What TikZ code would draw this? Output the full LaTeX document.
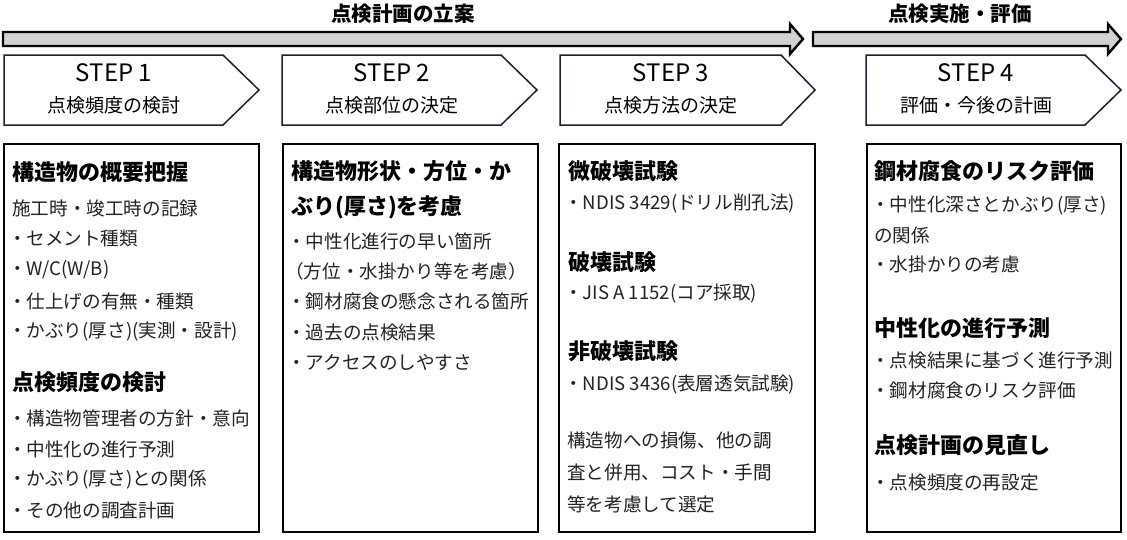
\documentclass[tikz,border=0pt]{standalone}
\usepackage{fontspec}
\setmainfont{Noto Sans CJK JP}
\definecolor{navyline}{HTML}{1C1E3A}
\definecolor{arrowfill}{HTML}{D2D2D2}
\definecolor{bodytext}{HTML}{222222}
\begin{document}
\begin{tikzpicture}[x=1pt,y=-1pt,
  arrowshape/.style={draw=black,line width=2.4pt,fill=arrowfill,line join=miter},
  stepshape/.style={draw=navyline,line width=1.5pt,fill=white,line join=miter},
  panel/.style={draw=black,line width=1.8pt},
  arrowlabel/.style={font=\fontsize{20.5}{24}\selectfont\bfseries,inner sep=0pt},
  steptitle/.style={font=\fontsize{24}{28}\selectfont,inner sep=0pt},
  stepsub/.style={font=\fontsize{19}{22}\selectfont,inner sep=0pt},
  hd/.style={font=\fontsize{22}{26}\selectfont\bfseries,anchor=west,inner sep=0pt},
  bd/.style={font=\fontsize{18.6}{22}\selectfont,text=bodytext,anchor=west,inner sep=0pt}]
\useasboundingbox (0,0) rectangle (1127,539);

% top arrows
\draw[arrowshape] (3,32) -- (790,32) -- (790,24) -- (803,39) -- (790,54) -- (790,46) -- (3,46) -- cycle;
\draw[arrowshape] (813,32) -- (1108,32) -- (1108,24) -- (1121,39) -- (1108,54) -- (1108,46) -- (813,46) -- cycle;
\node[arrowlabel] (lab1) at (403,14) {点検計画の立案};
\node[arrowlabel] (lab2) at (960,14) {点検実施・評価};

% step pentagons
\draw[stepshape] (4,55) -- (223,55) -- (259,90) -- (223,125) -- (4,125) -- cycle;
\draw[stepshape] (282,55) -- (501,55) -- (537,90) -- (501,125) -- (282,125) -- cycle;
\draw[stepshape] (560,55) -- (781,55) -- (815,90) -- (781,125) -- (560,125) -- cycle;
\draw[stepshape] (866,55) -- (1085,55) -- (1121,90) -- (1085,125) -- (866,125) -- cycle;

\node[steptitle] (s1) at (114,73) {STEP 1};
\node[stepsub] (s1s) at (114,105) {点検頻度の検討};
\node[steptitle] (s2) at (392,73) {STEP 2};
\node[stepsub] (s2s) at (392,105) {点検部位の決定};
\node[steptitle] (s3) at (671,73) {STEP 3};
\node[stepsub] (s3s) at (671,105) {点検方法の決定};
\node[steptitle] (s4) at (976,73) {STEP 4};
\node[stepsub] (s4s) at (976,105) {評価・今後の計画};

% content panels
\draw[panel] (4,144) rectangle (259,532);
\draw[panel] (283,144) rectangle (538,532);
\draw[panel] (559,144) rectangle (815,532);
\draw[panel] (867,144) rectangle (1121,532);

% panel 1
\node[hd] (a1) at (12,172) {構造物の概要把握};
\node[bd] (a2) at (12,208) {施工時・竣工時の記録};
\node[bd] (a3) at (8,239) {・セメント種類};
\node[bd] (a4) at (8,270) {・W/C(W/B)};
\node[bd] (a5) at (8,301) {・仕上げの有無・種類};
\node[bd] (a6) at (8,332) {・かぶり(厚さ)(実測・設計)};
\node[hd] (a7) at (12,382) {点検頻度の検討};
\node[bd] (a8) at (8,418) {・構造物管理者の方針・意向};
\node[bd] (a9) at (8,449) {・中性化の進行予測};
\node[bd] (a10) at (8,480) {・かぶり(厚さ)との関係};
\node[bd] (a11) at (8,510) {・その他の調査計画};

% panel 2
\node[hd] (b1) at (291,171) {構造物形状・方位・か};
\node[hd] (b2) at (291,207) {ぶり(厚さ)を考慮};
\node[bd] (b3) at (287,241) {・中性化進行の早い箇所};
\node[bd] (b4) at (285,271) {（方位・水掛かり等を考慮）};
\node[bd] (b5) at (287,301) {・鋼材腐食の懸念される箇所};
\node[bd] (b6) at (287,332) {・過去の点検結果};
\node[bd] (b7) at (287,362) {・アクセスのしやすさ};

% panel 3
\node[hd] (c1) at (568,171) {微破壊試験};
\node[bd] (c2) at (564,203) {・NDIS 3429(ドリル削孔法)};
\node[hd] (c3) at (568,262) {破壊試験};
\node[bd] (c4) at (564,294) {・JIS A 1152(コア採取)};
\node[hd] (c5) at (568,351) {非破壊試験};
\node[bd] (c6) at (564,384) {・NDIS 3436(表層透気試験)};
\node[bd] (c7) at (567,440) {構造物への損傷、他の調};
\node[bd] (c8) at (567,472) {査と併用、コスト・手間};
\node[bd] (c9) at (567,504) {等を考慮して選定};

% panel 4
\node[hd] (d1) at (874,171) {鋼材腐食のリスク評価};
\node[bd] (d2) at (871,206) {・中性化深さとかぶり(厚さ)};
\node[bd] (d3) at (874,235) {の関係};
\node[bd] (d4) at (871,264) {・水掛かりの考慮};
\node[hd] (d5) at (874,328) {中性化の進行予測};
\node[bd] (d6) at (871,360) {・点検結果に基づく進行予測};
\node[bd] (d7) at (871,390) {・鋼材腐食のリスク評価};
\node[hd] (d8) at (874,445) {点検計画の見直し};
\node[bd] (d9) at (871,482) {・点検頻度の再設定};
\end{tikzpicture}
\end{document}
